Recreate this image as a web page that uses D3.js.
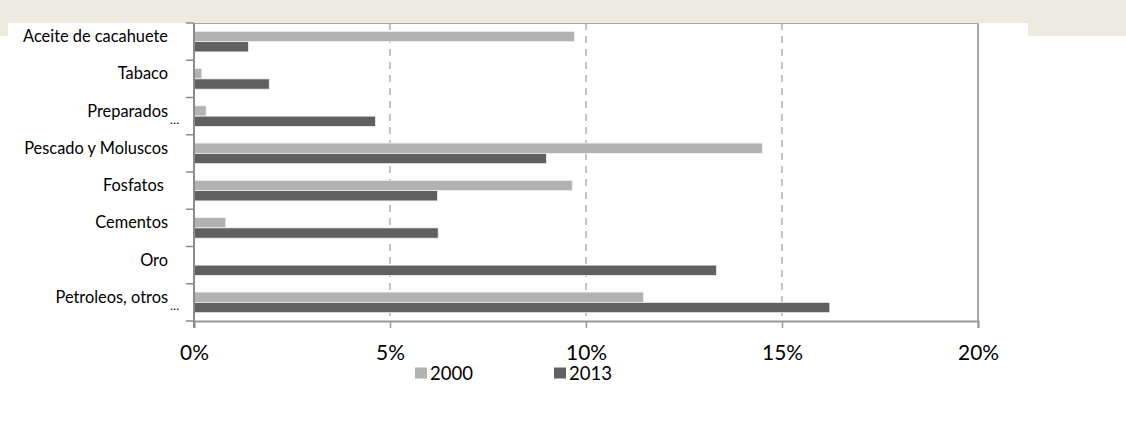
<!DOCTYPE html>
<html>
<head>
<meta charset="utf-8">
<script src="https://cdn.jsdelivr.net/npm/d3@7"></script>
<style>
  html, body { margin: 0; padding: 0; background: #ffffff; }
  svg { display: block; }
  text { font-family: Lato, "Open Sans", sans-serif; fill: #000; white-space: pre; }
</style>
</head>
<body>
<svg id="chart" width="1126" height="430"></svg>
<script>
// ---- data ----
const categories = ["Aceite de cacahuete", "Tabaco", "Preparados …", "Pescado y Moluscos", "Fosfatos ", "Cementos", "Oro", "Petroleos, otros …"];
const seriesNames = ["2000", "2013"];
const values2000 = [9.71, 0.2, 0.31, 14.5, 9.65, 0.81, 0, 11.47];
const values2013 = [1.39, 1.92, 4.63, 8.99, 6.21, 6.23, 13.33, 16.22];
const xTicks = [0, 5, 10, 15, 20];
const colors = ["#b2b2b2", "#606060"];

// ---- layout ----
const W = 1126, H = 430;
const plot = { left: 194, right: 978, top: 23, bottom: 321 };

const svg = d3.select("#chart");

function fitSize(sample, target) {
  const t = svg.append("text").attr("font-size", 100).text(sample);
  const w = t.node().getComputedTextLength();
  t.remove();
  return 100 * target / w;
}
const catFont = fitSize("Aceite de cacahuete", 145);
const tickFont = fitSize("20%", 41);
const legFont = fitSize("2013", 43);

// background bands
svg.append("rect").attr("x", 0).attr("y", 0).attr("width", W).attr("height", 36).attr("fill", "#edeae0");
svg.append("rect").attr("x", 8).attr("y", 23).attr("width", 1020).attr("height", 20).attr("fill", "#ffffff");

const x = d3.scaleLinear().domain([0, 20]).range([plot.left, plot.right]);
const y = d3.scaleBand().domain(categories).range([plot.top, plot.bottom])
  .paddingInner(0.447).paddingOuter(0.2235);
const ySub = d3.scaleBand().domain(seriesNames).range([0, y.bandwidth()]);
const step = y.step();

// plot border top
svg.append("line").attr("x1", plot.left).attr("x2", plot.right)
  .attr("y1", plot.top + 0.5).attr("y2", plot.top + 0.5)
  .attr("stroke", "#a6a6a6").attr("stroke-width", 1.2);

// dashed gridlines
svg.append("g").selectAll("line").data(xTicks.filter(d => d > 0 && d < 20)).join("line")
  .attr("x1", d => x(d)).attr("x2", d => x(d))
  .attr("y1", plot.top).attr("y2", plot.bottom)
  .attr("stroke", "#a6a6a6").attr("stroke-width", 1.3)
  .attr("stroke-dasharray", "7,6");
// right border solid
svg.append("line").attr("x1", x(20)).attr("x2", x(20))
  .attr("y1", plot.top).attr("y2", plot.bottom)
  .attr("stroke", "#a6a6a6").attr("stroke-width", 2);

// bars
const rows = categories.map((c, i) => ({ cat: c, vals: [values2000[i], values2013[i]] }));
const gRows = svg.append("g").selectAll("g").data(rows).join("g")
  .attr("transform", d => `translate(0,${y(d.cat)})`);
gRows.selectAll("rect").data(d => d.vals.map((v, j) => ({ v, s: seriesNames[j], j }))).join("rect")
  .attr("x", x(0))
  .attr("y", d => ySub(d.s))
  .attr("width", d => x(d.v) - x(0))
  .attr("height", ySub.bandwidth())
  .attr("fill", d => colors[d.j])
  .attr("stroke", d => d.v > 0 ? "#f2f2f2" : "none")
  .attr("stroke-width", 0.8);

// x axis
const xAxis = d3.axisBottom(x).tickValues(xTicks).tickSize(7).tickFormat(d => d + "%");
const gx = svg.append("g").attr("transform", `translate(0,${plot.bottom})`).call(xAxis);
gx.select(".domain").attr("stroke", "#999999").attr("stroke-width", 2);
gx.selectAll(".tick line").attr("stroke", "#999999").attr("stroke-width", 1.5);
gx.selectAll(".tick text").attr("y", 39).attr("dy", 0)
  .attr("font-size", tickFont).attr("font-family", "Lato, sans-serif").attr("fill", "#000");

// y axis line + ticks at band boundaries
svg.append("line").attr("x1", plot.left).attr("x2", plot.left)
  .attr("y1", plot.top).attr("y2", plot.bottom + 7)
  .attr("stroke", "#8c8c8c").attr("stroke-width", 2);
const bounds = d3.range(categories.length + 1).map(i => plot.top + i * step);
svg.append("g").selectAll("line").data(bounds).join("line")
  .attr("x1", plot.left - 8).attr("x2", plot.left)
  .attr("y1", d => d).attr("y2", d => d)
  .attr("stroke", "#8c8c8c").attr("stroke-width", 1.5);

// category labels
const labG = svg.append("g").selectAll("g").data(categories).join("g");
labG.each(function (c) {
  const g = d3.select(this);
  const top = y(c) - y.paddingOuter() * step;
  const parts = c.split(" …");
  g.append("text").attr("x", 168).attr("y", top + 19)
    .attr("text-anchor", "end").attr("font-size", catFont).text(parts[0]);
  if (parts.length > 1) {
    g.append("text").attr("x", 170).attr("y", top + 26)
      .attr("text-anchor", "start").attr("font-size", catFont * 0.75).text("…");
  }
});

// legend
const leg = svg.append("g").selectAll("g").data(seriesNames).join("g")
  .attr("transform", (d, i) => `translate(${i === 0 ? 415 : 554},0)`);
leg.append("rect").attr("x", 0).attr("y", 367.5).attr("width", 12).attr("height", 11)
  .attr("fill", (d, i) => colors[i]);
leg.append("text").attr("x", 15).attr("y", 380).attr("font-size", legFont).text(d => d);
</script>
</body>
</html>
